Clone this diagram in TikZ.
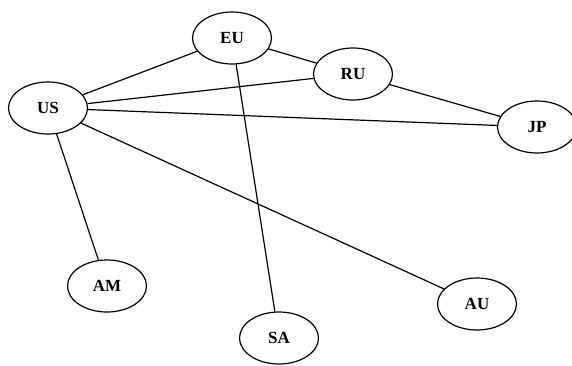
\documentclass[tikz,border=0pt]{standalone}
\usepackage{fontspec}
\setmainfont{Liberation Serif}
\usetikzlibrary{shapes.geometric}

\begin{document}
\begin{tikzpicture}[x=1pt,y=-1pt,
    region/.style={draw, ellipse, line width=1.2pt, minimum width=79pt,
        minimum height=52pt, inner sep=0pt,
        font=\fontsize{17}{19}\selectfont\bfseries},
    link/.style={line width=1.2pt}]
                \useasboundingbox (0,0) rectangle (572,365);

                \node[region] (eu) at (232,38) {EU};
                \node[region] (ru) at (353,74) {RU};
                \node[region] (us) at (48,108) {US};
                \node[region] (jp) at (537,127) {JP};
                \node[region] (am) at (107,286) {AM};
                \node[region] (sa) at (279,338) {SA};
                \node[region] (au) at (477,304) {AU};

                \draw[link] (eu) -- (us);
                \draw[link] (eu) -- (ru);
                \draw[link] (eu) -- (sa);
                \draw[link] (ru) -- (us);
                \draw[link] (ru) -- (jp);
                \draw[link] (us) -- (jp);
                \draw[link] (us) -- (am);
                \draw[link] (us) -- (au);
            \end{tikzpicture}
\end{document}
